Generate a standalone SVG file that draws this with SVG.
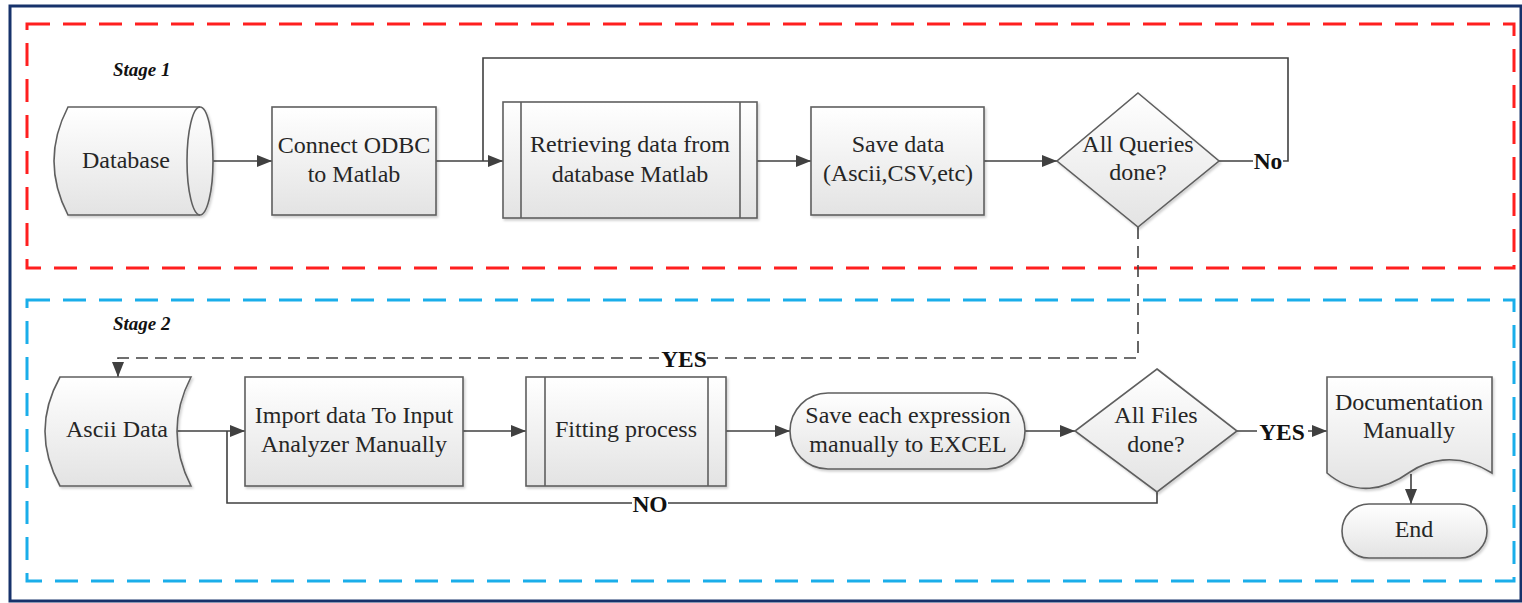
<svg xmlns="http://www.w3.org/2000/svg" width="1522" height="603" viewBox="0 0 1522 603">
<style>
.shape{fill:url(#g);stroke:#5f5f5f;stroke-width:1.6;filter:url(#sh)}
.inner{fill:none;stroke:#5f5f5f;stroke-width:1.6}
.t{font-family:"Liberation Serif","Times New Roman",serif;font-size:24px;fill:#262626;text-anchor:middle}
.lb{font-family:"Liberation Serif","Times New Roman",serif;font-size:23.5px;font-weight:bold;fill:#111;text-anchor:middle}
.st{font-family:"Liberation Serif","Times New Roman",serif;font-size:19px;font-weight:bold;font-style:italic;fill:#111}
.c{fill:none;stroke:#404040;stroke-width:1.6}
.a{marker-end:url(#ah)}
.d{stroke-dasharray:12 7}
</style>
<defs>
<linearGradient id="g" x1="0" y1="0" x2="0" y2="1">
<stop offset="0" stop-color="#ffffff"/>
<stop offset="1" stop-color="#e3e3e3"/>
</linearGradient>
<filter id="sh" x="-10%" y="-10%" width="130%" height="130%">
<feDropShadow dx="1.5" dy="2" stdDeviation="1.2" flood-color="#000" flood-opacity="0.18"/>
</filter>
<marker id="ah" markerUnits="userSpaceOnUse" markerWidth="16" markerHeight="12" refX="15" refY="6" orient="auto">
<path d="M0,0 L15,6 L0,12 Z" fill="#404040"/>
</marker>
</defs>
<rect x="0" y="0" width="1522" height="603" fill="#ffffff"/>
<rect id="frame" x="10" y="6" width="1511" height="595" fill="none" stroke="#17326b" stroke-width="3"/>
<rect id="stage1" x="27" y="24" width="1487" height="244" fill="none" stroke="#ff1f1f" stroke-width="3" stroke-dasharray="23 13"/>
<rect id="stage2" x="27" y="300" width="1487" height="281" fill="none" stroke="#1aaeea" stroke-width="3" stroke-dasharray="23 13"/>
<text class="st" x="113" y="76">Stage 1</text>
<text class="st" x="113" y="330">Stage 2</text>

<g id="connectors">
<path class="c a" d="M200,161 H272"/>
<path class="c a" d="M436,161 H503"/>
<path class="c" d="M1219,161 H1288 V58 H483 V161"/>
<path class="c a" d="M757,161 H811"/>
<path class="c a" d="M984,161 H1057"/>
<path class="c d a" d="M1138,227 V358 H118 V377"/>
<path class="c a" d="M177,431 H245"/>
<path class="c a" d="M463,431 H526"/>
<path class="c a" d="M726,431 H790"/>
<path class="c a" d="M1025,431 H1075"/>
<path class="c a" d="M1237,431 H1327"/>
<path class="c" d="M1157,492 V503 H227 V431"/>
<path class="c a" d="M1411,474 V504"/>
<rect x="1253" y="148" width="30" height="24" fill="#fff"/>
<text class="lb" x="1268" y="169">No</text>
<rect x="659" y="346" width="48" height="24" fill="#fff"/>
<text class="lb" x="684" y="367">YES</text>
<rect x="632" y="491" width="36" height="24" fill="#fff"/>
<text class="lb" x="650" y="512">NO</text>
<rect x="1257" y="419" width="51" height="24" fill="#fff"/>
<text class="lb" x="1282" y="440">YES</text>
</g>

<g id="database">
<path class="shape" d="M68,107 H200 A13,54 0 0 1 200,215 H68 Q40,161 68,107 Z"/>
<path class="inner" d="M200,107 A13,54 0 0 0 200,215"/>
<text class="t" x="126" y="168">Database</text>
</g>
<g id="connect">
<rect class="shape" x="272" y="107" width="164" height="108"/>
<text class="t" x="354" y="153">Connect ODBC</text>
<text class="t" x="354" y="182">to Matlab</text>
</g>
<g id="retrieving">
<rect class="shape" x="503" y="102" width="254" height="116"/>
<path class="inner" d="M521,102 V218 M740,102 V218"/>
<text class="t" x="630" y="152">Retrieving data from</text>
<text class="t" x="630" y="182">database Matlab</text>
</g>
<g id="savedata">
<rect class="shape" x="811" y="107" width="173" height="108"/>
<text class="t" x="898" y="152">Save data</text>
<text class="t" x="898" y="181">(Ascii,CSV,etc)</text>
</g>
<g id="queries">
<path class="shape" d="M1138,93 L1219,161 L1138,227 L1057,161 Z"/>
<text class="t" x="1138" y="152">All Queries</text>
<text class="t" x="1138" y="180">done?</text>
</g>
<g id="ascii">
<path class="shape" d="M60,377 H191 Q163,431 191,486 H60 Q30,431 60,377 Z"/>
<text class="t" x="117" y="437">Ascii Data</text>
</g>
<g id="import">
<rect class="shape" x="245" y="377" width="218" height="109"/>
<text class="t" x="354" y="423">Import data To Input</text>
<text class="t" x="354" y="452">Analyzer Manually</text>
</g>
<g id="fitting">
<rect class="shape" x="526" y="377" width="200" height="109"/>
<path class="inner" d="M545,377 V486 M708,377 V486"/>
<text class="t" x="626" y="437">Fitting process</text>
</g>
<g id="saveeach">
<rect class="shape" x="790" y="393" width="235" height="76" rx="38" ry="38"/>
<text class="t" x="908" y="423">Save each expression</text>
<text class="t" x="908" y="452">manually to EXCEL</text>
</g>
<g id="files">
<path class="shape" d="M1157,369 L1237,431 L1157,492 L1075,431 Z"/>
<text class="t" x="1156" y="423">All Files</text>
<text class="t" x="1156" y="452">done?</text>
</g>
<g id="documentation">
<path class="shape" d="M1327,377 H1492 V473 C1455,450 1425,462 1410,472 C1385,490 1355,497 1327,473 Z"/>
<text class="t" x="1409" y="410">Documentation</text>
<text class="t" x="1409" y="438">Manually</text>
</g>
<g id="end">
<rect class="shape" x="1342" y="504" width="145" height="54" rx="27" ry="27"/>
<text class="t" x="1414" y="537">End</text>
</g>
</svg>
